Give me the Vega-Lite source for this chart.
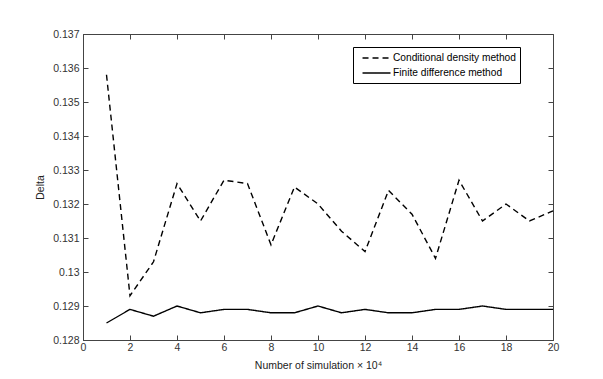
{
  "$schema": "https://vega.github.io/schema/vega-lite/v6.json",
  "width": 470,
  "height": 306,
  "autosize": {"type": "none"},
  "padding": {"left": 83, "top": 34, "right": 50, "bottom": 39},
  "background": "white",
  "config": {
    "font": "Liberation Sans",
    "view": {"stroke": "#444", "strokeWidth": 1},
    "axis": {
      "grid": false,
      "domainColor": "#444",
      "tickColor": "#444",
      "tickSize": -5,
      "labelFont": "Liberation Sans",
      "labelFontSize": 10.5,
      "labelColor": "#333",
      "titleFont": "Liberation Sans",
      "titleFontSize": 10.5,
      "titleFontWeight": "normal",
      "titleColor": "#222",
      "labelFlush": false,
      "labelOverlap": false
    }
  },
  "data": {
    "values": [
      {"n": 1, "method": "Conditional density method", "delta": 0.1358},
      {"n": 2, "method": "Conditional density method", "delta": 0.1293},
      {"n": 3, "method": "Conditional density method", "delta": 0.1303},
      {"n": 4, "method": "Conditional density method", "delta": 0.1326},
      {"n": 5, "method": "Conditional density method", "delta": 0.1315},
      {"n": 6, "method": "Conditional density method", "delta": 0.1327},
      {"n": 7, "method": "Conditional density method", "delta": 0.1326},
      {"n": 8, "method": "Conditional density method", "delta": 0.1308},
      {"n": 9, "method": "Conditional density method", "delta": 0.1325},
      {"n": 10, "method": "Conditional density method", "delta": 0.1320},
      {"n": 11, "method": "Conditional density method", "delta": 0.1312},
      {"n": 12, "method": "Conditional density method", "delta": 0.1306},
      {"n": 13, "method": "Conditional density method", "delta": 0.1324},
      {"n": 14, "method": "Conditional density method", "delta": 0.1317},
      {"n": 15, "method": "Conditional density method", "delta": 0.1304},
      {"n": 16, "method": "Conditional density method", "delta": 0.1327},
      {"n": 17, "method": "Conditional density method", "delta": 0.1315},
      {"n": 18, "method": "Conditional density method", "delta": 0.1320},
      {"n": 19, "method": "Conditional density method", "delta": 0.1315},
      {"n": 20, "method": "Conditional density method", "delta": 0.1318},
      {"n": 1, "method": "Finite difference method", "delta": 0.1285},
      {"n": 2, "method": "Finite difference method", "delta": 0.1289},
      {"n": 3, "method": "Finite difference method", "delta": 0.1287},
      {"n": 4, "method": "Finite difference method", "delta": 0.1290},
      {"n": 5, "method": "Finite difference method", "delta": 0.1288},
      {"n": 6, "method": "Finite difference method", "delta": 0.1289},
      {"n": 7, "method": "Finite difference method", "delta": 0.1289},
      {"n": 8, "method": "Finite difference method", "delta": 0.1288},
      {"n": 9, "method": "Finite difference method", "delta": 0.1288},
      {"n": 10, "method": "Finite difference method", "delta": 0.1290},
      {"n": 11, "method": "Finite difference method", "delta": 0.1288},
      {"n": 12, "method": "Finite difference method", "delta": 0.1289},
      {"n": 13, "method": "Finite difference method", "delta": 0.1288},
      {"n": 14, "method": "Finite difference method", "delta": 0.1288},
      {"n": 15, "method": "Finite difference method", "delta": 0.1289},
      {"n": 16, "method": "Finite difference method", "delta": 0.1289},
      {"n": 17, "method": "Finite difference method", "delta": 0.1290},
      {"n": 18, "method": "Finite difference method", "delta": 0.1289},
      {"n": 19, "method": "Finite difference method", "delta": 0.1289},
      {"n": 20, "method": "Finite difference method", "delta": 0.1289}
    ]
  },
  "layer": [
    {
      "mark": {"type": "line", "color": "black", "strokeWidth": 1.4},
      "encoding": {
        "x": {
          "field": "n", "type": "quantitative",
          "scale": {"domain": [0, 20], "nice": false},
          "axis": {"values": [0, 2, 4, 6, 8, 10, 12, 14, 16, 18, 20], "title": "Number of simulation  ×  10⁴", "labelPadding": 7, "titlePadding": 8}
        },
        "y": {
          "field": "delta", "type": "quantitative",
          "scale": {"domain": [0.128, 0.137], "nice": false, "zero": false},
          "axis": {"values": [0.128, 0.129, 0.130, 0.131, 0.132, 0.133, 0.134, 0.135, 0.136, 0.137], "format": ".3~f", "title": "Delta", "labelPadding": 9, "titlePadding": 7}
        },
        "strokeDash": {
          "field": "method", "type": "nominal",
          "scale": {"domain": ["Conditional density method", "Finite difference method"], "range": [[6, 4], [1, 0]]},
          "legend": {
            "title": null,
            "orient": "none",
            "legendX": 270,
            "legendY": 13,
            "strokeColor": "black",
            "fillColor": "white",
            "padding": 4,
            "symbolType": "M-2.33,0H2.33",
            "symbolSize": 144,
            "symbolStrokeColor": "black",
            "symbolStrokeWidth": 1.4,
            "symbolOffset": 12.5,
            "labelFont": "Liberation Sans",
            "labelFontSize": 10.2,
            "labelColor": "black",
            "labelOffset": 9.5,
            "rowPadding": 2
          }
        }
      }
    },
    {
      "mark": {"type": "line", "strokeOpacity": 0},
      "encoding": {
        "x": {"field": "n", "type": "quantitative", "axis": {"orient": "top", "values": [0, 2, 4, 6, 8, 10, 12, 14, 16, 18, 20], "labels": false, "title": null, "domain": false}},
        "y": {"field": "delta", "type": "quantitative", "axis": {"orient": "right", "values": [0.128, 0.129, 0.130, 0.131, 0.132, 0.133, 0.134, 0.135, 0.136, 0.137], "labels": false, "title": null, "domain": false}},
        "detail": {"field": "method"}
      }
    }
  ],
  "resolve": {"axis": {"x": "independent", "y": "independent"}}
}
